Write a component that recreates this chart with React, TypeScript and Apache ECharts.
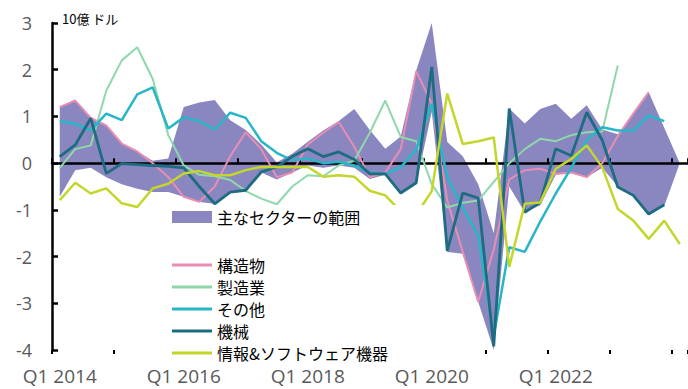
import React, { useEffect, useRef } from "react";
import * as echarts from "echarts";

const quarters = [
  "Q1 2014", "Q2 2014", "Q3 2014", "Q4 2014",
  "Q1 2015", "Q2 2015", "Q3 2015", "Q4 2015",
  "Q1 2016", "Q2 2016", "Q3 2016", "Q4 2016",
  "Q1 2017", "Q2 2017", "Q3 2017", "Q4 2017",
  "Q1 2018", "Q2 2018", "Q3 2018", "Q4 2018",
  "Q1 2019", "Q2 2019", "Q3 2019", "Q4 2019",
  "Q1 2020", "Q2 2020", "Q3 2020", "Q4 2020",
  "Q1 2021", "Q2 2021", "Q3 2021", "Q4 2021",
  "Q1 2022", "Q2 2022", "Q3 2022", "Q4 2022",
  "Q1 2023", "Q2 2023", "Q3 2023", "Q4 2023",
  "Q1 2024",
];

// x-axis labels shown (every two years)
const shownLabels = ["Q1 2014", "Q1 2016", "Q1 2018", "Q1 2020", "Q1 2022"];

// range of main sectors (lower / upper edge)
const bandLow = [
  -0.72, -0.15, -0.1, -0.3, -0.45, -0.55, -0.62, -0.62, -0.72, -0.83,
  -0.87, -0.62, -0.58, -0.2, -0.35, -0.2, -0.05, -0.1, -0.05, -0.1,
  -0.34, -0.25, -0.66, -0.45, 1.1, -1.9, -1.94, -2.97, -4.0, -0.5,
  -1.05, -0.9, -0.25, -0.2, -0.3, -0.1, -0.5, -0.69, -1.09, -0.92, 0,
];
const bandHigh = [
  1.22, 1.35, 0.99, 0.81, 0.42, 0.25, 0.05, 0.1, 1.2, 1.3,
  1.35, 0.92, 0.71, 0.4, 0.02, 0.2, 0.46, 0.7, 0.9, 1.16,
  0.71, 0.31, 0.57, 1.99, 3.0, 0.45, 0.15, -0.45, -1.5, 1.17,
  0.85, 1.16, 1.27, 0.95, 1.24, 0.72, 0.62, 1.06, 1.52, 0.76, 0,
];

const structures = [
  1.2, 1.34, 0.97, 0.81, 0.42, 0.25, 0.0, -0.3, -0.72, -0.83,
  -0.5, 0.15, 0.66, 0.3, -0.3, -0.2, 0.4, 0.65, 0.88, 0.35,
  -0.3, -0.2, 0.3, 1.97, 1.27, -0.8, -1.9, -2.97, -1.85, -0.35,
  -0.15, -0.12, -0.23, -0.2, -0.3, 0.0, 0.58, 1.06, 1.52,
];
const manufacturing = [
  -0.1, 0.3, 0.38, 1.55, 2.2, 2.48, 1.8, 0.6, -0.05, -0.25,
  -0.28, -0.36, -0.6, -0.76, -0.88, -0.5, -0.26, -0.28, -0.05, 0.05,
  0.65, 1.34, 0.56, 0.47, -0.45, -0.95, -0.85, -0.8, -0.4, 0.0,
  0.3, 0.52, 0.47, 0.6, 0.66, 0.68, 2.09,
];
const others = [
  0.9, 0.84, 0.7, 1.06, 0.92, 1.47, 1.62, 0.74, 0.98, 0.9,
  0.72, 1.08, 0.97, 0.47, 0.22, 0.06, 0.1, 0.0, 0.03, -0.05,
  -0.2, -0.23, -0.09, 0.3, 1.27, -0.3, -0.95, -1.55, -3.7, -1.8,
  -1.9, -1.25, -0.65, -0.1, 0.5, 0.77, 0.7, 0.7, 1.02, 0.9,
];
const machinery = [
  0.14, 0.39, 0.96, -0.22, -0.01, -0.03, -0.05, -0.07, -0.1, -0.5,
  -0.87, -0.62, -0.58, -0.19, -0.08, 0.14, 0.31, 0.14, 0.24, 0.08,
  -0.23, -0.23, -0.64, -0.42, 2.06, -1.88, -0.64, -0.75, -3.92, 1.17,
  -1.05, -0.84, 0.31, 0.16, 1.09, 0.49, -0.51, -0.69, -1.09, -0.89,
];
const infoSoftware = [
  -0.79, -0.42, -0.65, -0.54, -0.86, -0.94, -0.54, -0.44, -0.22, -0.17,
  -0.26, -0.26, -0.15, -0.08, -0.08, -0.08, -0.08, -0.29, -0.26, -0.29,
  -0.59, -0.69, -1.03, -1.1, -0.6, 1.49, 0.41, 0.47, 0.55, -2.22,
  -0.87, -0.84, -0.12, 0.09, 0.38, -0.09, -0.98, -1.23, -1.62, -1.23,
  -1.73,
];

const yTicks = { min: -4, max: 3, interval: 1 };

const BAND_NAME = "主なセクターの範囲";
const lineNames = ["構造物", "製造業", "その他", "機械", "情報&ソフトウェア機器"];
const lineData = [structures, manufacturing, others, machinery, infoSoftware];
const lineColors = ["#e98db3", "#8fd8ab", "#27b5c8", "#1d6c80", "#c4d62b"];
const lineWidths = [2, 2, 2.5, 2.8, 2.5];
const bandColor = "#8a86c0";

const jpFont = "'Noto Sans CJK JP', 'Noto Sans', sans-serif";
const axisFont = "'Open Sans', 'Noto Sans', sans-serif";

export default function App() {
  const ref = useRef<HTMLDivElement>(null);

  useEffect(() => {
    if (!ref.current) return;
    const chart = echarts.init(ref.current, null, { renderer: "svg" });
    const bandDiff = bandHigh.map((h, i) => Math.round((h - bandLow[i]) * 1000) / 1000);

    const baseX = {
      type: "category",
      data: quarters,
      boundaryGap: true,
      position: "bottom",
      splitLine: { show: false },
    };

    const legendText = {
      fontSize: 16,
      color: "#000",
      fontFamily: jpFont,
      lineHeight: 16,
    };

    const option: any = {
      animation: false,
      backgroundColor: "#fff",
      grid: {
        left: 52,
        right: 0.5,
        top: 23,
        bottom: 39,
        containLabel: false,
        outerBoundsMode: "none",
      },
      xAxis: [
        {
          ...baseX,
          axisLine: { show: false, onZero: false },
          axisTick: { show: false },
          axisLabel: {
            interval: (i: number, v: string) => shownLabels.indexOf(v) >= 0,
            margin: 16,
            fontSize: 19,
            color: "#595959",
            fontFamily: axisFont,
          },
        },
        {
          ...baseX,
          z: 2,
          axisLine: { show: true, onZero: true, lineStyle: { color: "#000", width: 2.5 } },
          axisTick: { show: true, interval: 3, inside: true, length: 5, lineStyle: { color: "#000", width: 2 } },
          axisLabel: { show: false },
        },
        {
          ...baseX,
          z: 2,
          axisLine: { show: true, onZero: true, lineStyle: { color: "#000", width: 1, opacity: 0 } },
          axisTick: { show: true, interval: 3, inside: false, length: 4, lineStyle: { color: "#000", width: 2 } },
          axisLabel: { show: false },
        },
      ],
      yAxis: {
        type: "value",
        z: 2,
        min: yTicks.min,
        max: yTicks.max,
        interval: yTicks.interval,
        axisLine: { show: true, onZero: false, lineStyle: { color: "#000", width: 2.5 } },
        axisTick: { show: true, inside: true, length: 6, lineStyle: { color: "#000", width: 2.5 } },
        axisLabel: { margin: 20, fontSize: 18, color: "#595959", fontFamily: axisFont },
        splitLine: { show: false },
      },
      legend: [
        {
          data: [{ name: BAND_NAME, icon: "rect" }],
          orient: "vertical",
          left: 172,
          top: 209,
          padding: 0,
          itemWidth: 40,
          itemHeight: 12,
          itemStyle: { borderWidth: 0 },
          textStyle: legendText,
          selectedMode: false,
          z: 60,
        },
        {
          data: lineNames.map((n) => ({ name: n, icon: "rect" })),
          orient: "vertical",
          left: 172,
          top: 257,
          padding: 0,
          itemWidth: 40,
          itemHeight: 3,
          itemGap: 6,
          itemStyle: { borderWidth: 0 },
          textStyle: legendText,
          selectedMode: false,
          z: 60,
        },
      ],
      graphic: [
        {
          type: "rect",
          shape: { x: 150, y: 205, width: 280, height: 162 },
          style: { fill: "#fff" },
          z: 50,
          silent: true,
        },
        {
          type: "text",
          x: 62,
          y: 18,
          z: 100,
          style: {
            text: "10億 ドル",
            fontSize: 13,
            fill: "#000",
            fontFamily: jpFont,
            verticalAlign: "middle",
          },
        },
      ],
      series: [
        {
          name: "lower",
          type: "line",
          data: bandLow,
          stack: "band",
          stackStrategy: "all",
          symbol: "none",
          silent: true,
          lineStyle: { opacity: 0, width: 0 },
          z: 1,
        },
        {
          name: BAND_NAME,
          type: "line",
          data: bandDiff,
          stack: "band",
          stackStrategy: "all",
          symbol: "none",
          silent: true,
          itemStyle: { color: bandColor },
          lineStyle: { opacity: 0, width: 0 },
          areaStyle: { color: bandColor, opacity: 1 },
          z: 1,
        },
        ...lineNames.map((n, k) => ({
          name: n,
          type: "line",
          data: lineData[k],
          symbol: "none",
          itemStyle: { color: lineColors[k] },
          lineStyle: { color: lineColors[k], width: lineWidths[k] },
          z: 3 + k,
        })),
      ],
    };

    chart.setOption(option);
    return () => chart.dispose();
  }, []);

  return (
    <div
      ref={ref}
      style={{ position: "fixed", left: 0, top: 0, width: 688, height: 389, background: "#fff" }}
    />
  );
}
